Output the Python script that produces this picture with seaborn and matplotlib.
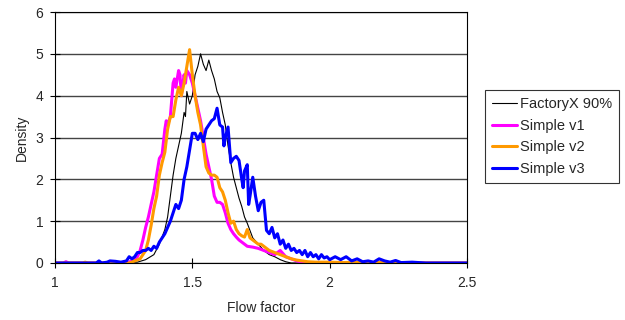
import matplotlib
matplotlib.use('Agg')
import matplotlib.pyplot as plt
import seaborn as sns
import pandas as pd

# FactoryX 90% (thin black)
factory_x = [1.0, 1.30, 1.33, 1.36, 1.38, 1.40, 1.41, 1.42, 1.43, 1.44, 1.45, 1.46, 1.47, 1.475, 1.48,
             1.49, 1.50, 1.51, 1.52, 1.53, 1.54, 1.55, 1.56, 1.57, 1.58, 1.59, 1.60, 1.61, 1.62, 1.63,
             1.64, 1.65, 1.66, 1.67, 1.68, 1.69, 1.70, 1.72, 1.74, 1.76, 1.78, 1.80, 1.82, 1.84, 1.86, 2.5]
factory_y = [0, 0.02, 0.08, 0.2, 0.45, 0.8, 1.1, 1.6, 2.1, 2.5, 2.8, 3.1, 3.6, 3.5, 4.1,
             3.8, 4.0, 4.5, 4.7, 5.0, 4.75, 4.6, 4.85, 4.6, 4.4, 4.1, 3.95, 3.6, 3.3, 2.8,
             2.4, 2.05, 1.8, 1.55, 1.35, 1.1, 0.95, 0.6, 0.45, 0.3, 0.2, 0.15, 0.08, 0.03, 0, 0]

# Simple v1 (magenta)
v1_x = [1.0, 1.03, 1.04, 1.05, 1.26, 1.28, 1.30, 1.31, 1.32, 1.33, 1.34, 1.35, 1.36, 1.37, 1.38,
        1.39, 1.40, 1.405, 1.41, 1.42, 1.43, 1.435, 1.44, 1.45, 1.455, 1.46, 1.47, 1.475, 1.48, 1.49,
        1.50, 1.51, 1.52, 1.53, 1.54, 1.55, 1.56, 1.57, 1.58, 1.59, 1.60, 1.61, 1.62, 1.63, 1.64,
        1.65, 1.66, 1.67, 1.68, 1.69, 1.70, 1.72, 1.74, 1.76, 1.78, 1.80, 1.82, 1.84, 1.86, 1.88,
        1.90, 1.92, 2.5]
v1_y = [0, 0, 0.03, 0, 0, 0.05, 0.15, 0.3, 0.55, 0.85, 1.1, 1.4, 1.7, 2.1, 2.5,
        2.6, 3.2, 3.4, 3.3, 3.5, 4.3, 4.4, 4.2, 4.6, 4.5, 4.0, 4.5, 4.3, 4.6, 4.5,
        4.3, 4.0, 3.7, 3.4, 3.0, 2.6, 2.3, 2.0, 1.6, 1.45, 1.45, 1.4, 1.2, 0.95, 0.8,
        0.7, 0.62, 0.55, 0.5, 0.45, 0.4, 0.38, 0.35, 0.3, 0.25, 0.2, 0.3, 0.15, 0.1, 0.05,
        0.02, 0, 0]

# Simple v2 (orange)
v2_x = [1.0, 1.1, 1.11, 1.12, 1.27, 1.29, 1.31, 1.32, 1.33, 1.34, 1.35, 1.36, 1.37, 1.38, 1.39,
        1.40, 1.41, 1.42, 1.43, 1.44, 1.45, 1.46, 1.47, 1.48, 1.49, 1.50, 1.51, 1.52, 1.53, 1.54,
        1.55, 1.56, 1.57, 1.58, 1.59, 1.60, 1.61, 1.62, 1.63, 1.64, 1.65, 1.66, 1.67, 1.68, 1.69,
        1.70, 1.71, 1.72, 1.73, 1.74, 1.75, 1.76, 1.78, 1.80, 1.82, 1.84, 1.86, 1.88, 1.90, 1.92,
        1.95, 2.0, 2.05, 2.1, 2.15, 2.2, 2.22, 2.5]
v2_y = [0, 0, 0.02, 0, 0, 0.05, 0.1, 0.2, 0.3, 0.55, 0.9, 1.3, 1.6, 2.1, 2.4,
        2.65, 3.2, 3.5, 3.5, 3.9, 4.2, 4.0, 4.3, 4.7, 5.1, 4.5, 4.0, 3.6, 3.3, 2.8,
        2.3, 2.15, 2.1, 2.1, 2.05, 1.8, 1.7, 1.5, 1.2, 0.95, 1.0, 0.8, 0.7, 0.65, 0.62,
        0.8, 0.6, 0.55, 0.5, 0.45, 0.45, 0.4, 0.3, 0.25, 0.2, 0.15, 0.1, 0.07, 0.05, 0.03,
        0.02, 0.02, 0.01, 0.02, 0.01, 0.02, 0, 0]

# Simple v3 (blue)
v3_x = [1.0, 1.15, 1.16, 1.17, 1.19, 1.20, 1.22, 1.24, 1.26, 1.27, 1.28, 1.29, 1.30, 1.31, 1.32,
        1.33, 1.34, 1.35, 1.36, 1.37, 1.38, 1.39, 1.40, 1.41, 1.42, 1.43, 1.44, 1.45, 1.46, 1.47,
        1.48, 1.49, 1.50, 1.51, 1.52, 1.53, 1.54, 1.55, 1.56, 1.57, 1.58, 1.59, 1.60, 1.61, 1.615,
        1.62, 1.63, 1.64, 1.65, 1.66, 1.67, 1.68, 1.685, 1.69, 1.70, 1.705, 1.71, 1.72, 1.73, 1.74,
        1.75, 1.76, 1.77, 1.78, 1.79, 1.80, 1.81, 1.82, 1.83, 1.84, 1.85, 1.86, 1.87, 1.88, 1.89,
        1.90, 1.91, 1.92, 1.93, 1.94, 1.95, 1.96, 1.97, 1.98, 1.99, 2.0, 2.02, 2.04, 2.06, 2.08,
        2.10, 2.12, 2.14, 2.16, 2.18, 2.20, 2.22, 2.24, 2.26, 2.30, 2.35, 2.5]
v3_y = [0, 0, 0.05, 0, 0.02, 0.05, 0.04, 0.02, 0.05, 0.15, 0.1, 0.15, 0.25, 0.25, 0.3,
        0.3, 0.35, 0.3, 0.4, 0.35, 0.5, 0.6, 0.7, 0.85, 1.0, 1.2, 1.4, 1.3, 1.5, 2.0,
        2.3, 2.7, 3.1, 3.1, 2.95, 3.1, 2.9, 3.2, 3.3, 3.4, 3.45, 3.7, 3.3, 3.25, 2.8,
        3.0, 3.25, 2.4, 2.5, 2.55, 2.45, 2.0, 1.8, 2.2, 2.35, 1.4, 1.6, 2.05, 1.6, 1.25,
        1.45, 1.5, 0.78, 0.7, 0.85, 0.6, 0.7, 0.45, 0.55, 0.35, 0.45, 0.3, 0.35, 0.25, 0.3,
        0.2, 0.3, 0.15, 0.25, 0.15, 0.2, 0.1, 0.2, 0.12, 0.15, 0.08, 0.15, 0.08, 0.15, 0.05,
        0.1, 0.03, 0.05, 0.02, 0.1, 0.05, 0.02, 0.06, 0.01, 0.02, 0, 0]

series = [
    ('FactoryX 90%', factory_x, factory_y, 'black', 0.8),
    ('Simple v1', v1_x, v1_y, '#FF00FF', 2.2),
    ('Simple v2', v2_x, v2_y, '#FF9900', 2.2),
    ('Simple v3', v3_x, v3_y, '#0000FF', 2.2),
]

sns.set_style('white')
plt.rcParams['font.family'] = ['Liberation Sans', 'DejaVu Sans']

fig = plt.figure(figsize=(6.25, 3.2), dpi=100)
ax = fig.add_axes([55/625, 57/320, 412/625, 251/320])

for name, xs, ys, color, lw in series:
    df = pd.DataFrame({'Flow factor': xs, 'Density': ys})
    sns.lineplot(data=df, x='Flow factor', y='Density', color=color, linewidth=lw,
                 label=name, sort=False, estimator=None, ax=ax, legend=False)

ax.set_xlim(1, 2.5)
ax.set_ylim(0, 6)
ax.set_xticks([1, 1.5, 2, 2.5])
ax.set_xticklabels(['1', '1.5', '2', '2.5'])
ax.set_yticks(range(7))
ax.yaxis.grid(True, color='#444444', linewidth=1)
ax.set_axisbelow(True)
for s in ax.spines.values():
    s.set_color('black')
    s.set_linewidth(0.8)
ax.tick_params(axis='both', labelsize=10, length=7, width=0.8, color='black',
               direction='inout', bottom=True, left=True)
ax.tick_params(axis='y', pad=5)
ax.tick_params(axis='x', pad=6)
ax.set_xlabel('Flow factor', fontsize=10, labelpad=8)
ax.set_ylabel('Density', fontsize=10, labelpad=5)

handles, labels = ax.get_legend_handles_labels()
leg = fig.legend(handles, labels, loc='upper left', bbox_to_anchor=(485/625, 1 - 90/320),
                 fontsize=10.5, frameon=True, fancybox=False, edgecolor='black',
                 handlelength=1.7, handletextpad=0.2, borderpad=0.5, labelspacing=0.52,
                 borderaxespad=0)
leg.get_frame().set_linewidth(0.8)

fig.savefig('out.png', dpi=100)
